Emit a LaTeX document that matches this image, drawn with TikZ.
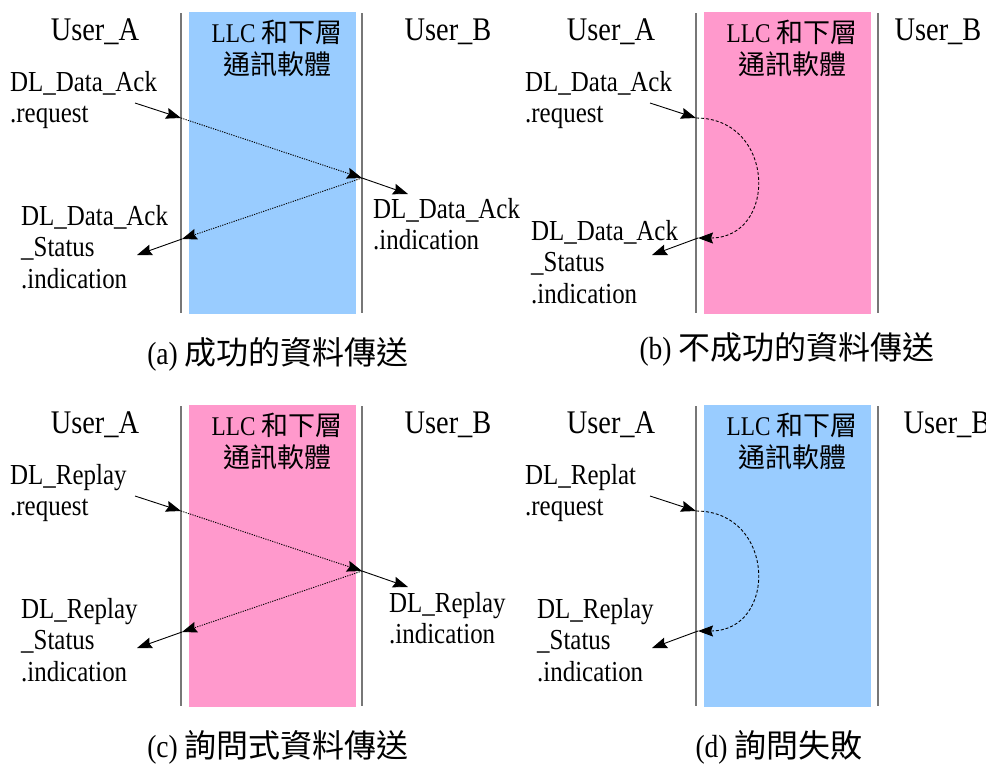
\documentclass[tikz,border=0pt]{standalone}
\usepackage{fontspec}
\setmainfont[FakeStretch=0.86]{Liberation Serif}
\newfontfamily\cjk{Noto Sans CJK TC}
\usetikzlibrary{arrows.meta}
\definecolor{laneblue}{HTML}{99CCFF}
\definecolor{lanepink}{HTML}{FF99CC}
\definecolor{lanegray}{HTML}{777777}
\tikzset{
 lbl/.style={inner sep=0pt, align=left, anchor=north west, font=\fontsize{29}{31.5}\selectfont},
 headtxt/.style={inner sep=0pt, anchor=base, font=\fontsize{33}{36}\selectfont},
 llc/.style={inner sep=0pt, align=center, anchor=north, font=\fontsize{27}{31.5}\selectfont},
 captxt/.style={inner sep=0pt, anchor=base, font=\fontsize{32}{36}\selectfont},
 lane/.style={draw=lanegray, line width=2pt},
 msg/.style={line width=0.9pt, -{Stealth[length=15pt,width=11pt,inset=2pt]}},
 dotmsg/.style={msg, dash pattern=on 1.2pt off 1.2pt},
 dashmsg/.style={msg, dash pattern=on 3pt off 2pt},
}
\begin{document}
\begin{tikzpicture}[x=1pt,y=-1pt]
\useasboundingbox (0,0) rectangle (986,764);
% ---------- panel (a)
\fill[laneblue] (189,12) rectangle (356,314);
\draw[lane] (181,13) -- (181,313);
\draw[lane] (362,13) -- (362,313);
\node[headtxt] (a-ua) at (95,40) {User\_A};
\node[headtxt] (a-ub) at (448,40) {User\_B};
\node[llc] (a-llc) at (277,20) {LLC {\cjk 和下層}\\{\cjk 通訊軟體}};
\node[lbl] (a-reqt) at (10,71) {DL\_Data\_Ack\\.request};
\node[lbl] (a-stt) at (21,205) {DL\_Data\_Ack\\\_Status\\.indication};
\node[lbl] (a-indt) at (373,198) {DL\_Data\_Ack\\.indication};
\coordinate (a-req) at (135,103);
\coordinate (a-A1) at (181,118);
\coordinate (a-B) at (362,178);
\coordinate (a-ind) at (408,194);
\coordinate (a-A2) at (182,239);
\coordinate (a-st) at (137,255);
\draw[msg] (a-req) -- (a-A1);
\draw[dotmsg] (a-A1) -- (a-B);
\draw[msg] (a-B) -- (a-ind);
\draw[dotmsg] (a-B) -- (a-A2);
\draw[msg] (a-A2) -- (a-st);
\node[captxt] (a-cap) at (278,364) {(a) {\cjk 成功的資料傳送}};
% ---------- panel (b)
\fill[lanepink] (704,12) rectangle (871,314);
\draw[lane] (696,13) -- (696,313);
\draw[lane] (878,13) -- (878,313);
\node[headtxt] (b-ua) at (611,40) {User\_A};
\node[headtxt] (b-ub) at (938,40) {User\_B};
\node[llc] (b-llc) at (792,20) {LLC {\cjk 和下層}\\{\cjk 通訊軟體}};
\node[lbl] (b-reqt) at (525,71) {DL\_Data\_Ack\\.request};
\node[lbl] (b-stt) at (531,220) {DL\_Data\_Ack\\\_Status\\.indication};
\coordinate (b-req) at (650,103);
\coordinate (b-A1) at (696,118);
\coordinate (b-A2) at (698,238);
\coordinate (b-st) at (652,255);
\draw[msg] (b-req) -- (b-A1);
\draw[dashmsg] (b-A1) .. controls +(80,0) and +(80,0) .. (b-A2);
\draw[msg] (b-A2) -- (b-st);
\node[captxt] (b-cap) at (787,359) {(b) {\cjk 不成功的資料傳送}};
% ---------- panel (c)
\fill[lanepink] (189,405) rectangle (356,707);
\draw[lane] (181,406) -- (181,706);
\draw[lane] (362,406) -- (362,706);
\node[headtxt] (c-ua) at (95,433) {User\_A};
\node[headtxt] (c-ub) at (448,433) {User\_B};
\node[llc] (c-llc) at (277,413) {LLC {\cjk 和下層}\\{\cjk 通訊軟體}};
\node[lbl] (c-reqt) at (10,464) {DL\_Replay\\.request};
\node[lbl] (c-stt) at (21,598) {DL\_Replay\\\_Status\\.indication};
\node[lbl] (c-indt) at (389,592) {DL\_Replay\\.indication};
\coordinate (c-req) at (135,496);
\coordinate (c-A1) at (181,511);
\coordinate (c-B) at (362,571);
\coordinate (c-ind) at (408,587);
\coordinate (c-A2) at (182,632);
\coordinate (c-st) at (137,648);
\draw[msg] (c-req) -- (c-A1);
\draw[dotmsg] (c-A1) -- (c-B);
\draw[msg] (c-B) -- (c-ind);
\draw[dotmsg] (c-B) -- (c-A2);
\draw[msg] (c-A2) -- (c-st);
\node[captxt] (c-cap) at (278,757) {(c) {\cjk 詢問式資料傳送}};
% ---------- panel (d)
\fill[laneblue] (704,405) rectangle (871,707);
\draw[lane] (696,406) -- (696,706);
\draw[lane] (878,406) -- (878,706);
\node[headtxt] (d-ua) at (611,433) {User\_A};
\node[headtxt] (d-ub) at (947,433) {User\_B};
\node[llc] (d-llc) at (792,413) {LLC {\cjk 和下層}\\{\cjk 通訊軟體}};
\node[lbl] (d-reqt) at (525,464) {DL\_Replat\\.request};
\node[lbl] (d-stt) at (537,598) {DL\_Replay\\\_Status\\.indication};
\coordinate (d-req) at (650,496);
\coordinate (d-A1) at (696,511);
\coordinate (d-A2) at (698,631);
\coordinate (d-st) at (652,648);
\draw[msg] (d-req) -- (d-A1);
\draw[dashmsg] (d-A1) .. controls +(80,0) and +(80,0) .. (d-A2);
\draw[msg] (d-A2) -- (d-st);
\node[captxt] (d-cap) at (779,757) {(d) {\cjk 詢問失敗}};
\end{tikzpicture}
\end{document}
